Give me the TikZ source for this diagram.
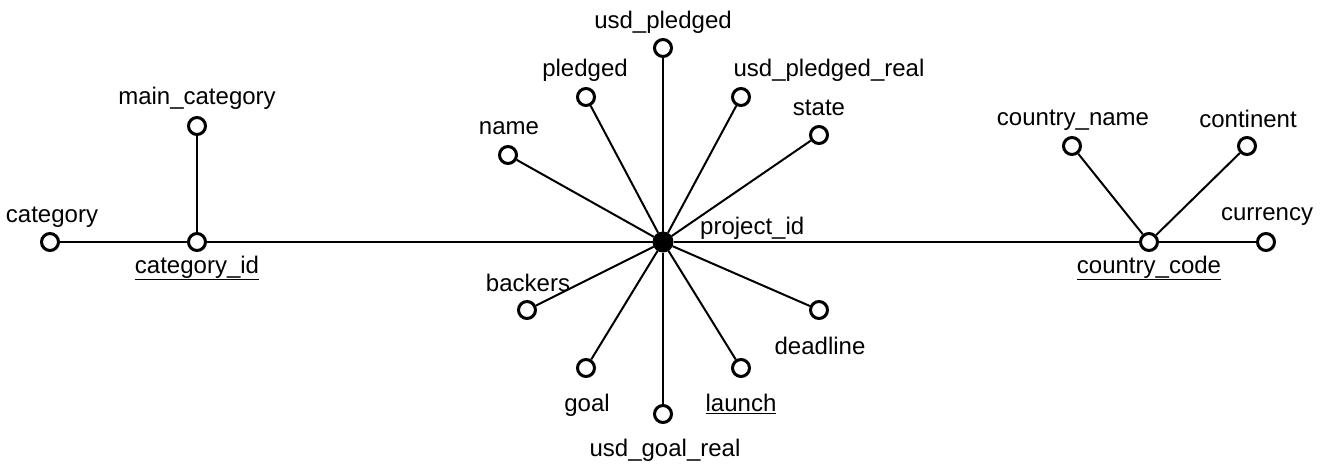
\documentclass[tikz,border=0pt]{standalone}
\usepackage{fontspec}
\setmainfont{Liberation Sans}
\begin{document}
\begin{tikzpicture}[x=1pt,y=-1pt,
  attr/.style={draw, circle, fill=white, line width=3pt, minimum size=17pt, inner sep=0pt},
  key/.style={draw, circle, fill=black, line width=1pt, minimum size=20pt, inner sep=0pt},
  lbl/.style={inner sep=0pt, font=\fontsize{24}{28}\selectfont},
  link/.style={line width=2pt}]
\useasboundingbox (0,0) rectangle (1325,466);

% attribute points
\node[key]  (pid)  at (663,242) {};
\node[attr] (cat)  at (50,242) {};
\node[attr] (catid) at (197,242) {};
\node[attr] (mcat) at (197,126) {};
\node[attr] (name) at (508,155) {};
\node[attr] (pl)   at (586,97) {};
\node[attr] (usdp) at (663,48) {};
\node[attr] (usdpr) at (741,97) {};
\node[attr] (state) at (819,135) {};
\node[attr] (back) at (527,310) {};
\node[attr] (goal) at (586,368) {};
\node[attr] (usdg) at (663,414) {};
\node[attr] (launch) at (741,368) {};
\node[attr] (dead) at (819,310) {};
\node[attr] (ccode) at (1149,242) {};
\node[attr] (cname) at (1072,146) {};
\node[attr] (cont) at (1247,146) {};
\node[attr] (curr) at (1266,242) {};

% links
\draw[link] (cat) -- (catid);
\draw[link] (catid) -- (mcat);
\draw[link] (catid) -- (pid);
\draw[link] (pid) -- (ccode);
\draw[link] (ccode) -- (curr);
\draw[link] (ccode) -- (cname);
\draw[link] (ccode) -- (cont);
\foreach \t in {name,pl,usdp,usdpr,state,back,goal,usdg,launch,dead}
  \draw[link] (pid) -- (\t);

% labels
\node[lbl] (tcat) at (52,217) {category};
\node[lbl] (tcatid) at (197,268) {\underline{category\_id}};
\node[lbl] (tmcat) at (197,98) {main\_category};
\node[lbl] (tusdp) at (663,22) {usd\_pledged};
\node[lbl] (tpl) at (585,70) {pledged};
\node[lbl] (tusdpr) at (829,70) {usd\_pledged\_real};
\node[lbl] (tstate) at (819,108) {state};
\node[lbl] (tname) at (509,128) {name};
\node[lbl, anchor=west] (tpid) at (700,228) {project\_id};
\node[lbl] (tback) at (528,283) {backers};
\node[lbl] (tgoal) at (587,405) {goal};
\node[lbl] (tusdg) at (665,450) {usd\_goal\_real};
\node[lbl] (tlaunch) at (741,404) {\underline{launch}};
\node[lbl] (tdead) at (820,346) {deadline};
\node[lbl] (tcname) at (1073,120) {country\_name};
\node[lbl] (tcont) at (1248,119) {continent};
\node[lbl] (tcurr) at (1267,217) {currency};
\node[lbl] (tccode) at (1149,268) {\underline{country\_code}};
\end{tikzpicture}
\end{document}
